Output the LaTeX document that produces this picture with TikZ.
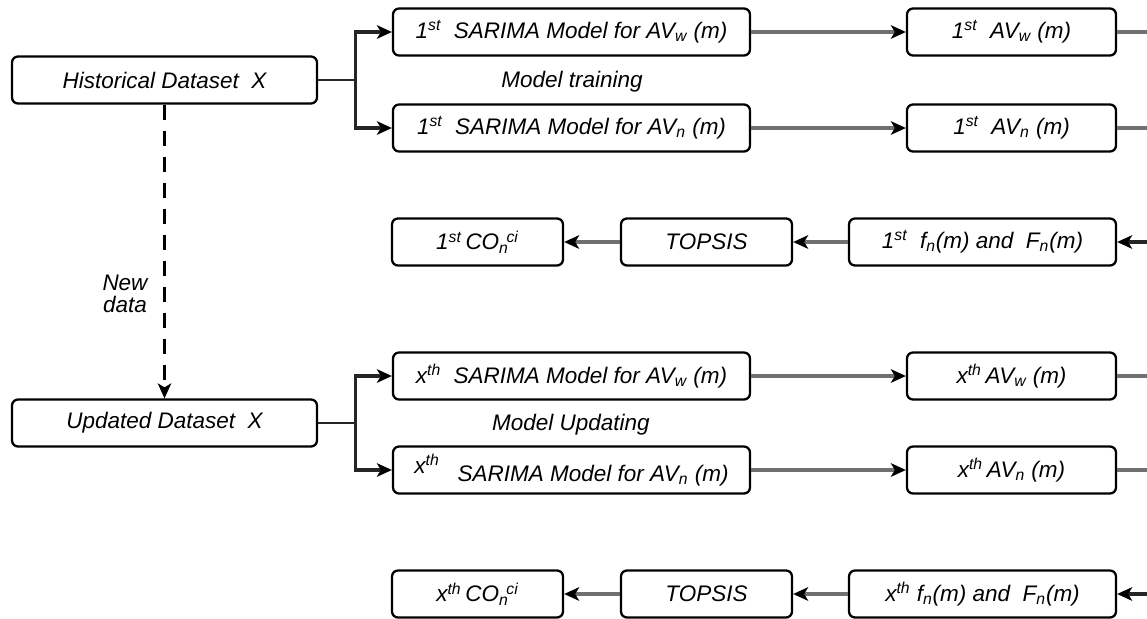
\documentclass[tikz,border=0pt]{standalone}
\usepackage{fontspec}
\setmainfont{Liberation Sans}
\usepackage{xcolor}
\usetikzlibrary{arrows.meta, positioning}

\definecolor{linegray}{RGB}{112,112,112}
\newcommand{\ordst}{\textsuperscript{st}}
\newcommand{\ordth}{\textsuperscript{th}}
\newcommand{\subsup}[2]{\textsubscript{#1}\kern-0.1em\textsuperscript{#2}}

\begin{document}
\begin{tikzpicture}[x=0.02cm, y=-0.02cm, font=\fontsize{12.8}{15}\selectfont\itshape,
    box/.style={draw, line width=1.3pt, rounded corners=0.12cm, minimum height=0.94cm, inner sep=2pt},
    arr/.style={draw=linegray, line width=1.8pt, -{Stealth[length=0.3cm, width=0.27cm, inset=0.08cm, black]}},
    darkarr/.style={arr, draw=black!85},
    plainline/.style={draw=linegray, line width=1.8pt},
    trunk/.style={draw=black!85, line width=1.6pt}]
    \useasboundingbox (0,0) rectangle (1147,619);

    % datasets
    \node[box, minimum width=6.1cm] (hist) at (164.5,80) {Historical Dataset\ \ X};
    \node[box, minimum width=6.1cm] (upd) at (164.5,423) {Updated Dataset\ \ X};
    \node[font=\fontsize{12.8}{12.5}\selectfont\itshape, align=center] (newdata) at (125,294) {New\\data};

    % first round
    \node[box, minimum width=7.14cm] (sarw1) at (571.5,32) {1\ordst\ \ SARIMA Model for AV\textsubscript{w} (m)};
    \node[box, minimum width=7.14cm] (sarn1) at (571.5,128) {1\ordst\ \ SARIMA Model for AV\textsubscript{n} (m)};
    \node (train) at (572,82) {Model training};
    \node[box, minimum width=4.18cm] (avw1) at (1011.5,32) {1\ordst\ \ AV\textsubscript{w} (m)};
    \node[box, minimum width=4.18cm] (avn1) at (1011.5,128) {1\ordst\ \ AV\textsubscript{n} (m)};
    \node[box, minimum width=5.34cm] (fn1) at (982.5,242) {1\ordst\ \ f\textsubscript{n}(m) and\ \ F\textsubscript{n}(m)};
    \node[box, minimum width=3.42cm] (tops1) at (706.5,242) {TOPSIS};
    \node[box, minimum width=3.42cm] (co1) at (477.5,242) {1\ordst\,CO\subsup{n}{ci}};

    % x-th round
    \node[box, minimum width=7.14cm] (sarwx) at (571.5,376) {x\ordth\ \ SARIMA Model for AV\textsubscript{w} (m)};
    \node[box, minimum width=7.14cm] (sarnx) at (571.5,470) {\raisebox{4.5pt}{x\ordth}\hspace{0.8em}SARIMA Model for AV\textsubscript{n} (m)};
    \node (updating) at (571,425) {Model Updating};
    \node[box, minimum width=4.18cm] (avwx) at (1011.5,376) {x\ordth\,AV\textsubscript{w} (m)};
    \node[box, minimum width=4.18cm] (avnx) at (1011.5,470) {x\ordth\,AV\textsubscript{n} (m)};
    \node[box, minimum width=5.34cm] (fnx) at (982.5,594) {x\ordth\ f\textsubscript{n}(m) and\ \ F\textsubscript{n}(m)};
    \node[box, minimum width=3.42cm] (topsx) at (706.5,594) {TOPSIS};
    \node[box, minimum width=3.42cm] (cox) at (477.5,594) {x\ordth\,CO\subsup{n}{ci}};

    % loose ends at the right border
    \coordinate (ew1) at (1147,32); \coordinate (en1) at (1147,128); \coordinate (ef1) at (1147,242);
    \coordinate (ewx) at (1147,376); \coordinate (enx) at (1147,470); \coordinate (efx) at (1147,594);

    % connectors
    \draw[trunk] (hist.east) -- ++(37,0) coordinate (hfork);
    \draw[darkarr] (hfork) |- (sarw1.west); \draw[darkarr] (hfork) |- (sarn1.west);
    \draw[trunk] (upd.east) -- ++(37,0) coordinate (ufork);
    \draw[darkarr] (ufork) |- (sarwx.west); \draw[darkarr] (ufork) |- (sarnx.west);
    \draw[line width=1.2pt, dash pattern=on 0.3cm off 0.22cm, -{Stealth[length=0.3cm, width=0.27cm, inset=0.08cm]}] (hist.south) -- (upd.north);

    \draw[arr] (sarw1) -- (avw1); \draw[arr] (sarn1) -- (avn1);
    \draw[plainline] (avw1) -- (ew1); \draw[plainline] (avn1) -- (en1);
    \draw[darkarr] (ef1) -- (fn1); \draw[arr] (fn1) -- (tops1); \draw[arr] (tops1) -- (co1);

    \draw[arr] (sarwx) -- (avwx); \draw[arr] (sarnx.east |- avnx) -- (avnx);
    \draw[plainline] (avwx) -- (ewx); \draw[plainline] (avnx) -- (enx);
    \draw[darkarr] (efx) -- (fnx); \draw[arr] (fnx) -- (topsx); \draw[arr] (topsx) -- (cox);
\end{tikzpicture}
\end{document}
